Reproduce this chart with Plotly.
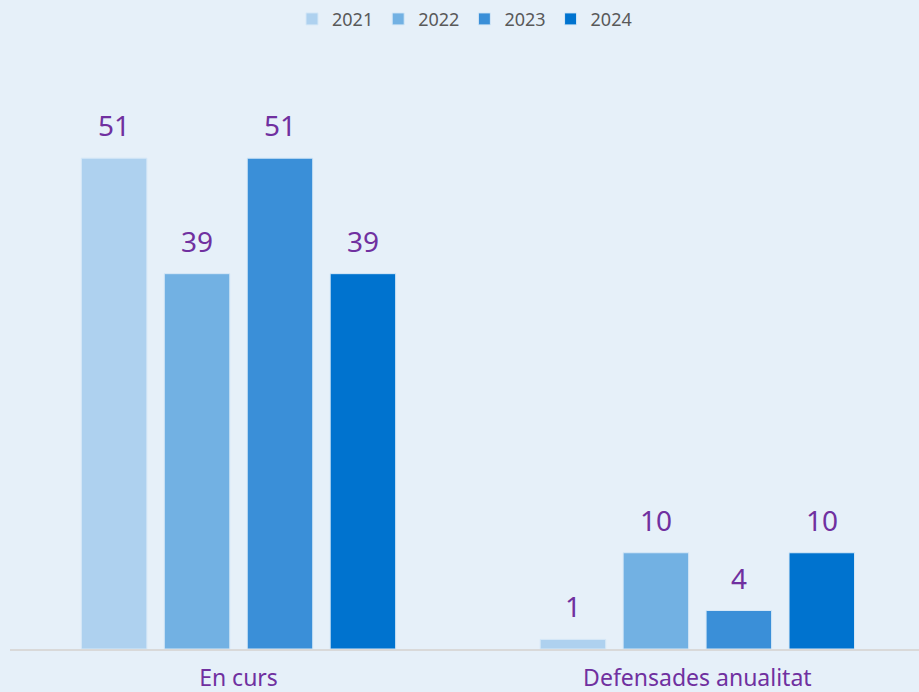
import plotly.graph_objects as go

categories = ["En curs", "Defensades anualitat"]
years = ["2021", "2022", "2023", "2024"]
values = {
    "2021": [51, 1],
    "2022": [39, 10],
    "2023": [51, 4],
    "2024": [39, 10],
}
colors = ["#AED1EF", "#72B1E3", "#3A8FD8", "#0073CF"]

fig = go.Figure()
for i, (year, color) in enumerate(zip(years, colors)):
    fig.add_trace(go.Bar(
        x=categories, y=values[year], name=year,
        marker_color=color, marker_line_color="#D6E8F7", marker_line_width=1,
    ))
    # value labels sit a bit higher above the bars than plotly's default text
    for cat, v in zip(categories, values[year]):
        fig.add_annotation(
            x=cat, y=v, text=str(v), showarrow=False,
            xshift=(i - 1.5) * 83, yshift=12, yanchor="bottom",
            font=dict(color="#7030A0", size=28, family="Noto Sans"),
        )

fig.update_layout(
    width=919, height=692,
    paper_bgcolor="#E6F0F9", plot_bgcolor="#E6F0F9",
    barmode="group", bargap=0.277, bargroupgap=0.21,
    margin=dict(l=10, r=0, t=60, b=43),
    font=dict(family="Noto Sans"),
    legend=dict(orientation="h", x=0.5, xanchor="center", y=0.999, yanchor="top",
                yref="container", font=dict(size=18, color="#595959"),
                itemwidth=30, traceorder="normal"),
)
fig.update_xaxes(range=[-0.498, 1.483], showline=True, linecolor="#D9D9D9", linewidth=2,
                 tickfont=dict(size=23, color="#7030A0"), ticks="", showgrid=False,
                 ticklabelstandoff=7, automargin=False)
fig.update_yaxes(range=[0, 61.2], visible=False, showgrid=False)

fig.write_html("out.html", config={"displayModeBar": False},
               post_script="document.body.style.margin='0';")
